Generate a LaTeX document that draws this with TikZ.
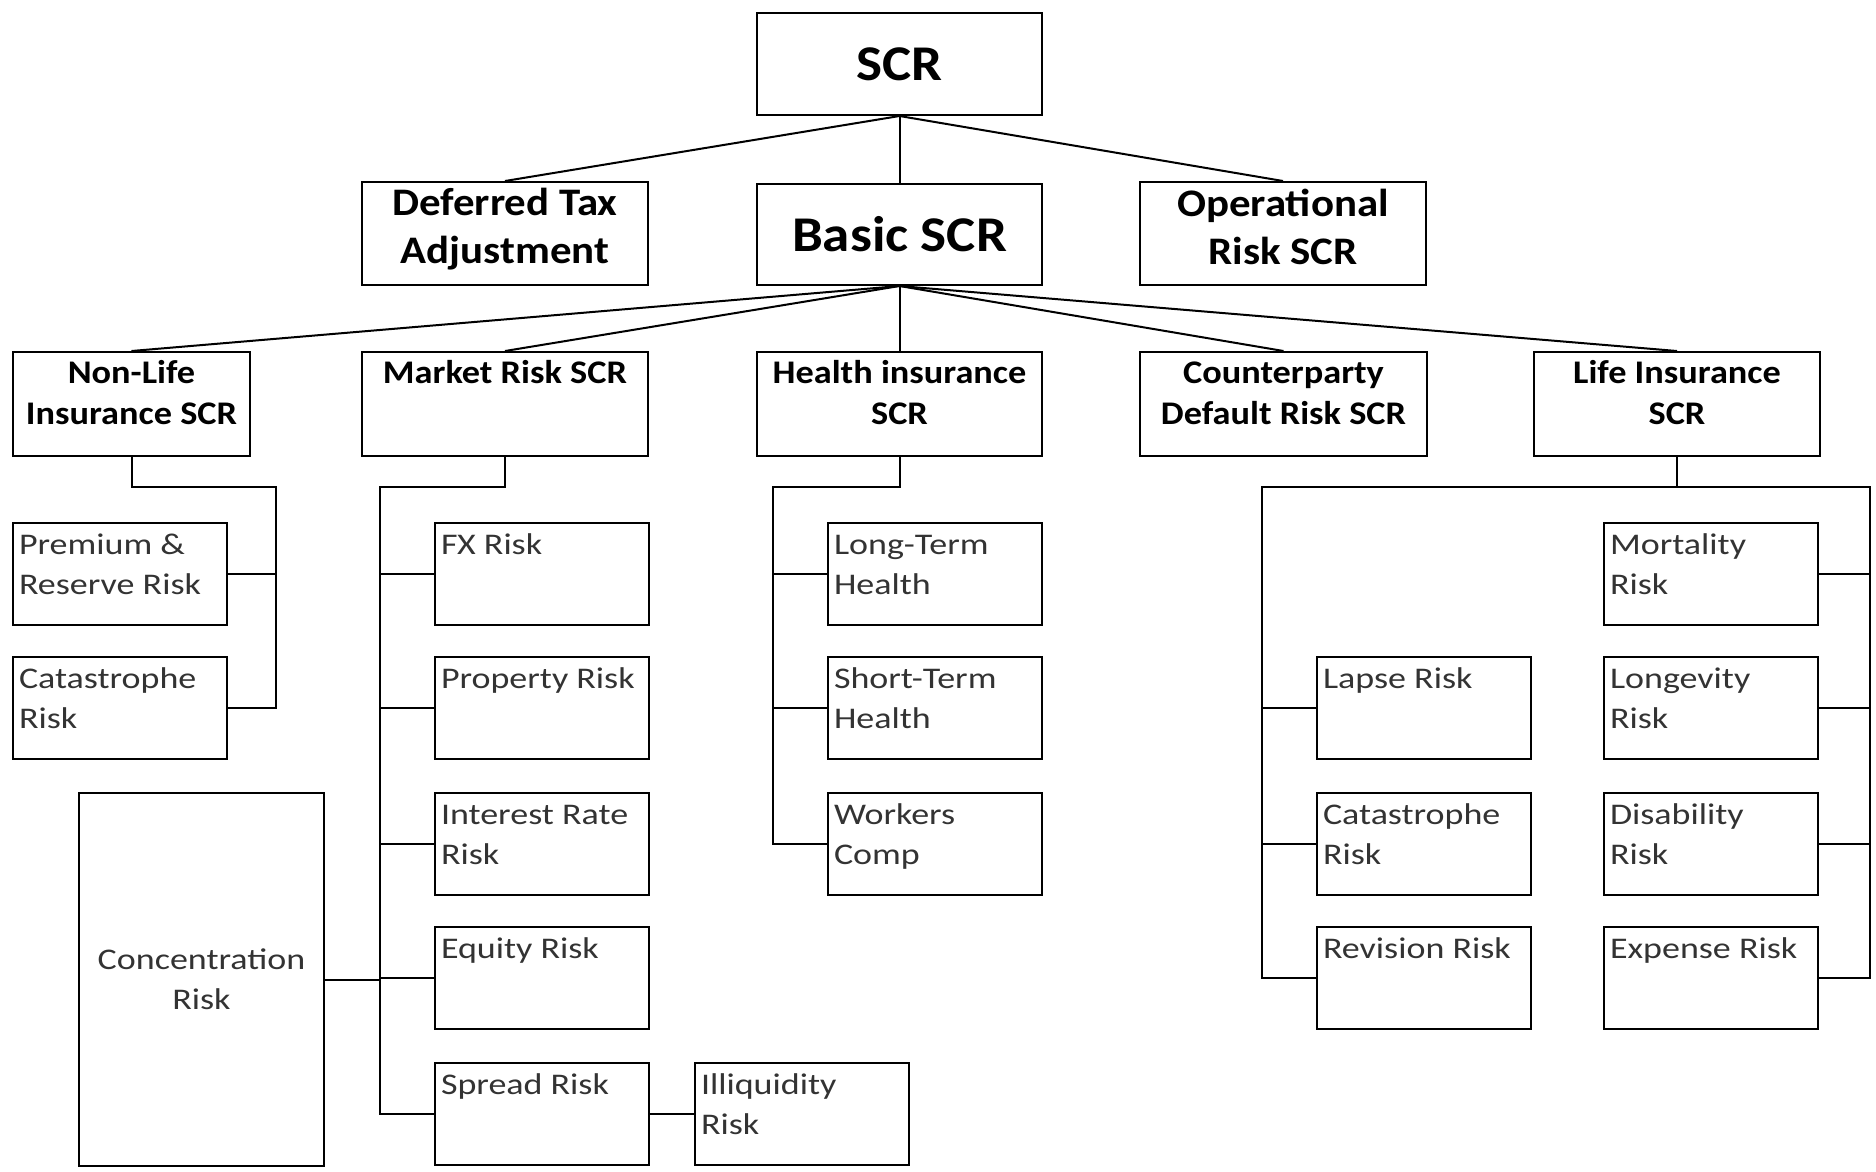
\documentclass[tikz,border=0pt]{standalone}
\usepackage{fontspec}
\setmainfont{Carlito}[FakeStretch=1.1]
\newfontfamily\riskfont{Carlito}[FakeStretch=1.2]
\newcommand{\toptext}[2]{\parbox[t][98pt][t]{#1}{\centering\strut #2}}
\newcommand{\risktext}[1]{\parbox[t][96pt][t]{214pt}{\raggedright\leftskip=6pt\strut #1}}

\begin{document}
\begin{tikzpicture}[x = 1pt, y = -1pt, line width = 2pt,
  head/.style = {draw, anchor = north west, inner sep = 0pt, align = center,
    minimum width = 285pt, font = \bfseries\fontsize{50}{58}\selectfont},
  sub/.style = {draw, anchor = north west, inner sep = 0pt, align = center,
    minimum width = 286pt, minimum height = 103pt,
    execute at begin node = \strut, execute at end node = \strut,
    font = \bfseries\fontsize{39}{48}\selectfont},
  branch/.style = {draw, anchor = north west, inner xsep = 0pt, inner ysep = 3pt,
    font = \bfseries\fontsize{33}{41}\selectfont},
  risk/.style = {draw, anchor = north west, inner xsep = 0pt, inner ysep = 3pt,
    text = black!80, font = \riskfont\fontsize{30}{40}\selectfont}]
\useasboundingbox (0, 0) rectangle (1876, 1171);

% top levels
\node[head, minimum height = 102pt] (scr) at (756, 12) {SCR};
\node[sub] (deferred) at (361, 181) {Deferred Tax\\Adjustment};
\node[head, minimum height = 101pt] (basic) at (756, 183) {Basic SCR};
\node[sub] (operational) at (1139, 181) {Operational\\Risk SCR};

\node[branch] (nonlife) at (12, 351) {\toptext{237pt}{Non-Life\\Insurance SCR}};
\node[branch] (market) at (361, 351) {\toptext{286pt}{Market Risk SCR}};
\node[branch] (health) at (756, 351) {\toptext{285pt}{Health insurance\\SCR}};
\node[branch] (counter) at (1139, 351) {\toptext{287pt}{Counterparty\\Default Risk SCR}};
\node[branch] (life) at (1533, 351) {\toptext{286pt}{Life Insurance\\SCR}};

% risk modules
\node[risk] (premium) at (12, 522) {\risktext{Premium \&\\Reserve Risk}};
\node[risk] (nlcat) at (12, 656) {\risktext{Catastrophe\\Risk}};

\node[risk] (fx) at (434, 522) {\risktext{FX Risk}};
\node[risk] (property) at (434, 656) {\risktext{Property Risk}};
\node[risk] (interest) at (434, 792) {\risktext{Interest Rate\\Risk}};
\node[risk] (equity) at (434, 926) {\risktext{Equity Risk}};
\node[risk] (spread) at (434, 1062) {\risktext{Spread Risk}};
\node[risk] (illiquidity) at (694, 1062) {\risktext{Illiquidity\\Risk}};
\node[draw, anchor = north west, minimum width = 245pt, minimum height = 373pt,
  align = center, text = black!80, font = \riskfont\fontsize{30}{40}\selectfont]
  (concentration) at (78, 792) {Concentration\\Risk};

\node[risk] (longterm) at (827, 522) {\risktext{Long-Term\\Health}};
\node[risk] (shortterm) at (827, 656) {\risktext{Short-Term\\Health}};
\node[risk] (workers) at (827, 792) {\risktext{Workers\\Comp}};

\node[risk] (lapse) at (1316, 656) {\risktext{Lapse Risk}};
\node[risk] (lifecat) at (1316, 792) {\risktext{Catastrophe\\Risk}};
\node[risk] (revision) at (1316, 926) {\risktext{Revision Risk}};
\node[risk] (mortality) at (1603, 522) {\risktext{Mortality\\Risk}};
\node[risk] (longevity) at (1603, 656) {\risktext{Longevity\\Risk}};
\node[risk] (disability) at (1603, 792) {\risktext{Disability\\Risk}};
\node[risk] (expense) at (1603, 926) {\risktext{Expense Risk}};

% connectors
\foreach \n in {deferred, basic, operational}
  \draw (scr.south) -- (\n.north);
\foreach \n in {nonlife, market, health, counter, life}
  \draw (basic.south) -- (\n.north);

\coordinate (nlbus) at (276, 487);
\draw (nonlife.south) |- (nlbus) |- (nlcat.east);
\draw (premium.east) -- (premium.east -| nlbus);

\coordinate (mkbus) at (380, 487);
\draw (market.south) |- (mkbus) |- (spread.west);
\foreach \n in {fx, property, interest, equity}
  \draw (\n.west) -- (\n.west -| mkbus);
\draw (concentration.east) -- (concentration.east -| mkbus);
\draw (spread.east) -- (illiquidity.west);

\coordinate (hbus) at (773, 487);
\draw (health.south) |- (hbus) |- (workers.west);
\foreach \n in {longterm, shortterm}
  \draw (\n.west) -- (\n.west -| hbus);

\coordinate (lleft) at (1262, 487);
\coordinate (lright) at (1870, 487);
\draw (life.south) -- (life.south |- lleft);
\draw (revision.west) -| (lleft) -- (lright) |- (expense.east);
\foreach \n in {lapse, lifecat}
  \draw (\n.west) -- (\n.west -| lleft);
\foreach \n in {mortality, longevity, disability}
  \draw (\n.east) -- (\n.east -| lright);
\end{tikzpicture}
\end{document}
